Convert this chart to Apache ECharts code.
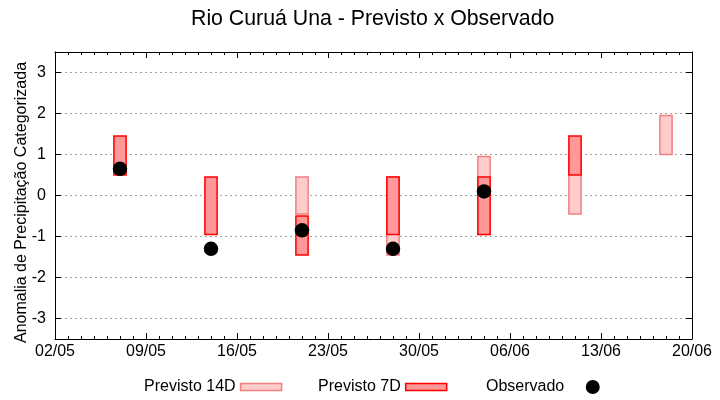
<!DOCTYPE html>
<html>
<head>
<meta charset="utf-8">
<script src="https://cdn.jsdelivr.net/npm/echarts@6/dist/echarts.min.js"></script>
<style>html,body{margin:0;padding:0;background:#fff}#c{width:720px;height:400px}</style>
</head>
<body>
<div id="c"></div>
<script>
// x positions: days since 02/05
var xTickLabels = ['02/05', '09/05', '16/05', '23/05', '30/05', '06/06', '13/06', '20/06'];
var yTicks = [-3, -2, -1, 0, 1, 2, 3];
var forecastDays = [5, 12, 19, 26, 33, 40, 47]; // 07/05 ... 18/06
var p14Low  = [null, null, -0.45, -1.45, -0.95, -0.45, 1.0];
var p14High = [null, null,  0.45,  0.45,  0.95,  0.95, 1.95];
var p7Low   = [0.5, -0.95, -1.45, -0.95, -0.95, 0.5, null];
var p7High  = [1.45, 0.45, -0.5,  0.45,  0.45, 1.45, null];
var observed = [0.65, -1.3, -0.85, -1.3, 0.1, null, null];

function boxData(lo, hi) {
  var out = [];
  for (var i = 0; i < forecastDays.length; i++) {
    if (lo[i] !== null && hi[i] !== null) out.push([forecastDays[i], lo[i], hi[i]]);
  }
  return out;
}
var obsData = [];
for (var i = 0; i < forecastDays.length; i++) {
  if (observed[i] !== null) obsData.push([forecastDays[i], observed[i]]);
}

function makeRender(fill, stroke) {
  return function (params, api) {
    var x = api.value(0), lo = api.value(1), hi = api.value(2);
    var p1 = api.coord([x - 0.47, hi]);
    var p2 = api.coord([x + 0.47, lo]);
    return {
      type: 'rect',
      shape: { x: p1[0], y: p1[1], width: p2[0] - p1[0], height: p2[1] - p1[1] },
      style: { fill: fill, stroke: stroke, lineWidth: 1.5 }
    };
  };
}

var FONT = 'Liberation Sans';
var chart = echarts.init(document.getElementById('c'), null, { renderer: 'canvas' });

var xBase = {
  type: 'value', min: 0, max: 49, interval: 7,
  axisLine: { show: true, onZero: false, lineStyle: { color: '#000', width: 1 } },
  axisTick: { show: true, inside: true, length: 6, lineStyle: { color: '#000' } },
  minorTick: { show: true, splitNumber: 7, length: 3, lineStyle: { color: '#000' } },
  splitLine: { show: false },
  minorSplitLine: { show: false }
};
var yBase = {
  type: 'value', min: -3.5, max: 3.5,
  axisLine: { show: true, onZero: false, lineStyle: { color: '#000', width: 1 } },
  axisTick: { show: true, inside: true, length: 6, customValues: yTicks, lineStyle: { color: '#000' } },
  splitLine: { show: false }
};

chart.setOption({
  animation: false,
  textStyle: { fontFamily: FONT },
  title: {
    text: 'Rio Curuá Una - Previsto x Observado',
    left: 191, top: 9, padding: 0,
    textStyle: { fontFamily: FONT, fontSize: 21.3, fontWeight: 'normal', color: '#000' }
  },
  grid: { left: 55, right: 28, top: 52, bottom: 61, containLabel: false, outerBoundsMode: 'none' },
  legend: [
    {
      left: 144, top: 379, align: 'right', itemWidth: 41, itemHeight: 7, padding: 0,
      textStyle: { fontFamily: FONT, fontSize: 16, color: '#000' },
      data: [{ name: 'Previsto 14D', icon: 'rect', itemStyle: { color: '#ffcccc', borderColor: '#f08080', borderWidth: 1.5 } }]
    },
    {
      left: 318, top: 379, align: 'right', itemWidth: 41, itemHeight: 7, padding: 0,
      textStyle: { fontFamily: FONT, fontSize: 16, color: '#000' },
      data: [{ name: 'Previsto 7D', icon: 'rect', itemStyle: { color: '#ff9999', borderColor: '#ff0000', borderWidth: 1.5 } }]
    },
    {
      left: 486, top: 379, align: 'right', itemWidth: 47, itemHeight: 14, padding: 0,
      textStyle: { fontFamily: FONT, fontSize: 16, color: '#000' },
      data: [{ name: 'Observado', icon: 'circle', itemStyle: { color: '#000', opacity: 1 } }]
    }
  ],
  xAxis: [
    Object.assign({}, xBase, {
      position: 'bottom',
      axisLabel: {
        show: true, margin: 5, fontFamily: FONT, fontSize: 16, color: '#000',
        formatter: function (v) { return xTickLabels[Math.round(v / 7)] || ''; }
      }
    }),
    Object.assign({}, xBase, { position: 'top', axisLabel: { show: false } })
  ],
  yAxis: [
    Object.assign({}, yBase, {
      position: 'left',
      name: 'Anomalia de Precipitação Categorizada',
      nameLocation: 'middle', nameGap: 25, nameMoveOverlap: false,
      nameTextStyle: { fontFamily: FONT, fontSize: 16, color: '#000', padding: [0, 14, 0, 0] },
      axisLabel: { show: true, margin: 9, customValues: yTicks, fontFamily: FONT, fontSize: 16, color: '#000' },
      splitLine: { show: true, lineStyle: { color: '#a0a0a0', type: [2, 3], width: 1 } }
    }),
    Object.assign({}, yBase, { position: 'right', axisLabel: { show: false } })
  ],
  series: [
    {
      name: 'Previsto 14D', type: 'custom', xAxisIndex: 0, yAxisIndex: 0,
      renderItem: makeRender('#ffcccc', '#f08080'),
      itemStyle: { color: '#ffcccc', borderColor: '#f08080' },
      encode: { x: 0, y: [1, 2] },
      data: boxData(p14Low, p14High), z: 2
    },
    {
      name: 'Previsto 7D', type: 'custom', xAxisIndex: 0, yAxisIndex: 0,
      renderItem: makeRender('#ff9999', '#ff0000'),
      itemStyle: { color: '#ff9999', borderColor: '#ff0000' },
      encode: { x: 0, y: [1, 2] },
      data: boxData(p7Low, p7High), z: 3
    },
    {
      name: 'Observado', type: 'scatter', xAxisIndex: 0, yAxisIndex: 0,
      symbol: 'circle', symbolSize: 14.5,
      itemStyle: { color: '#000', opacity: 1 },
      data: obsData, z: 4
    }
  ]
});
</script>
</body>
</html>
